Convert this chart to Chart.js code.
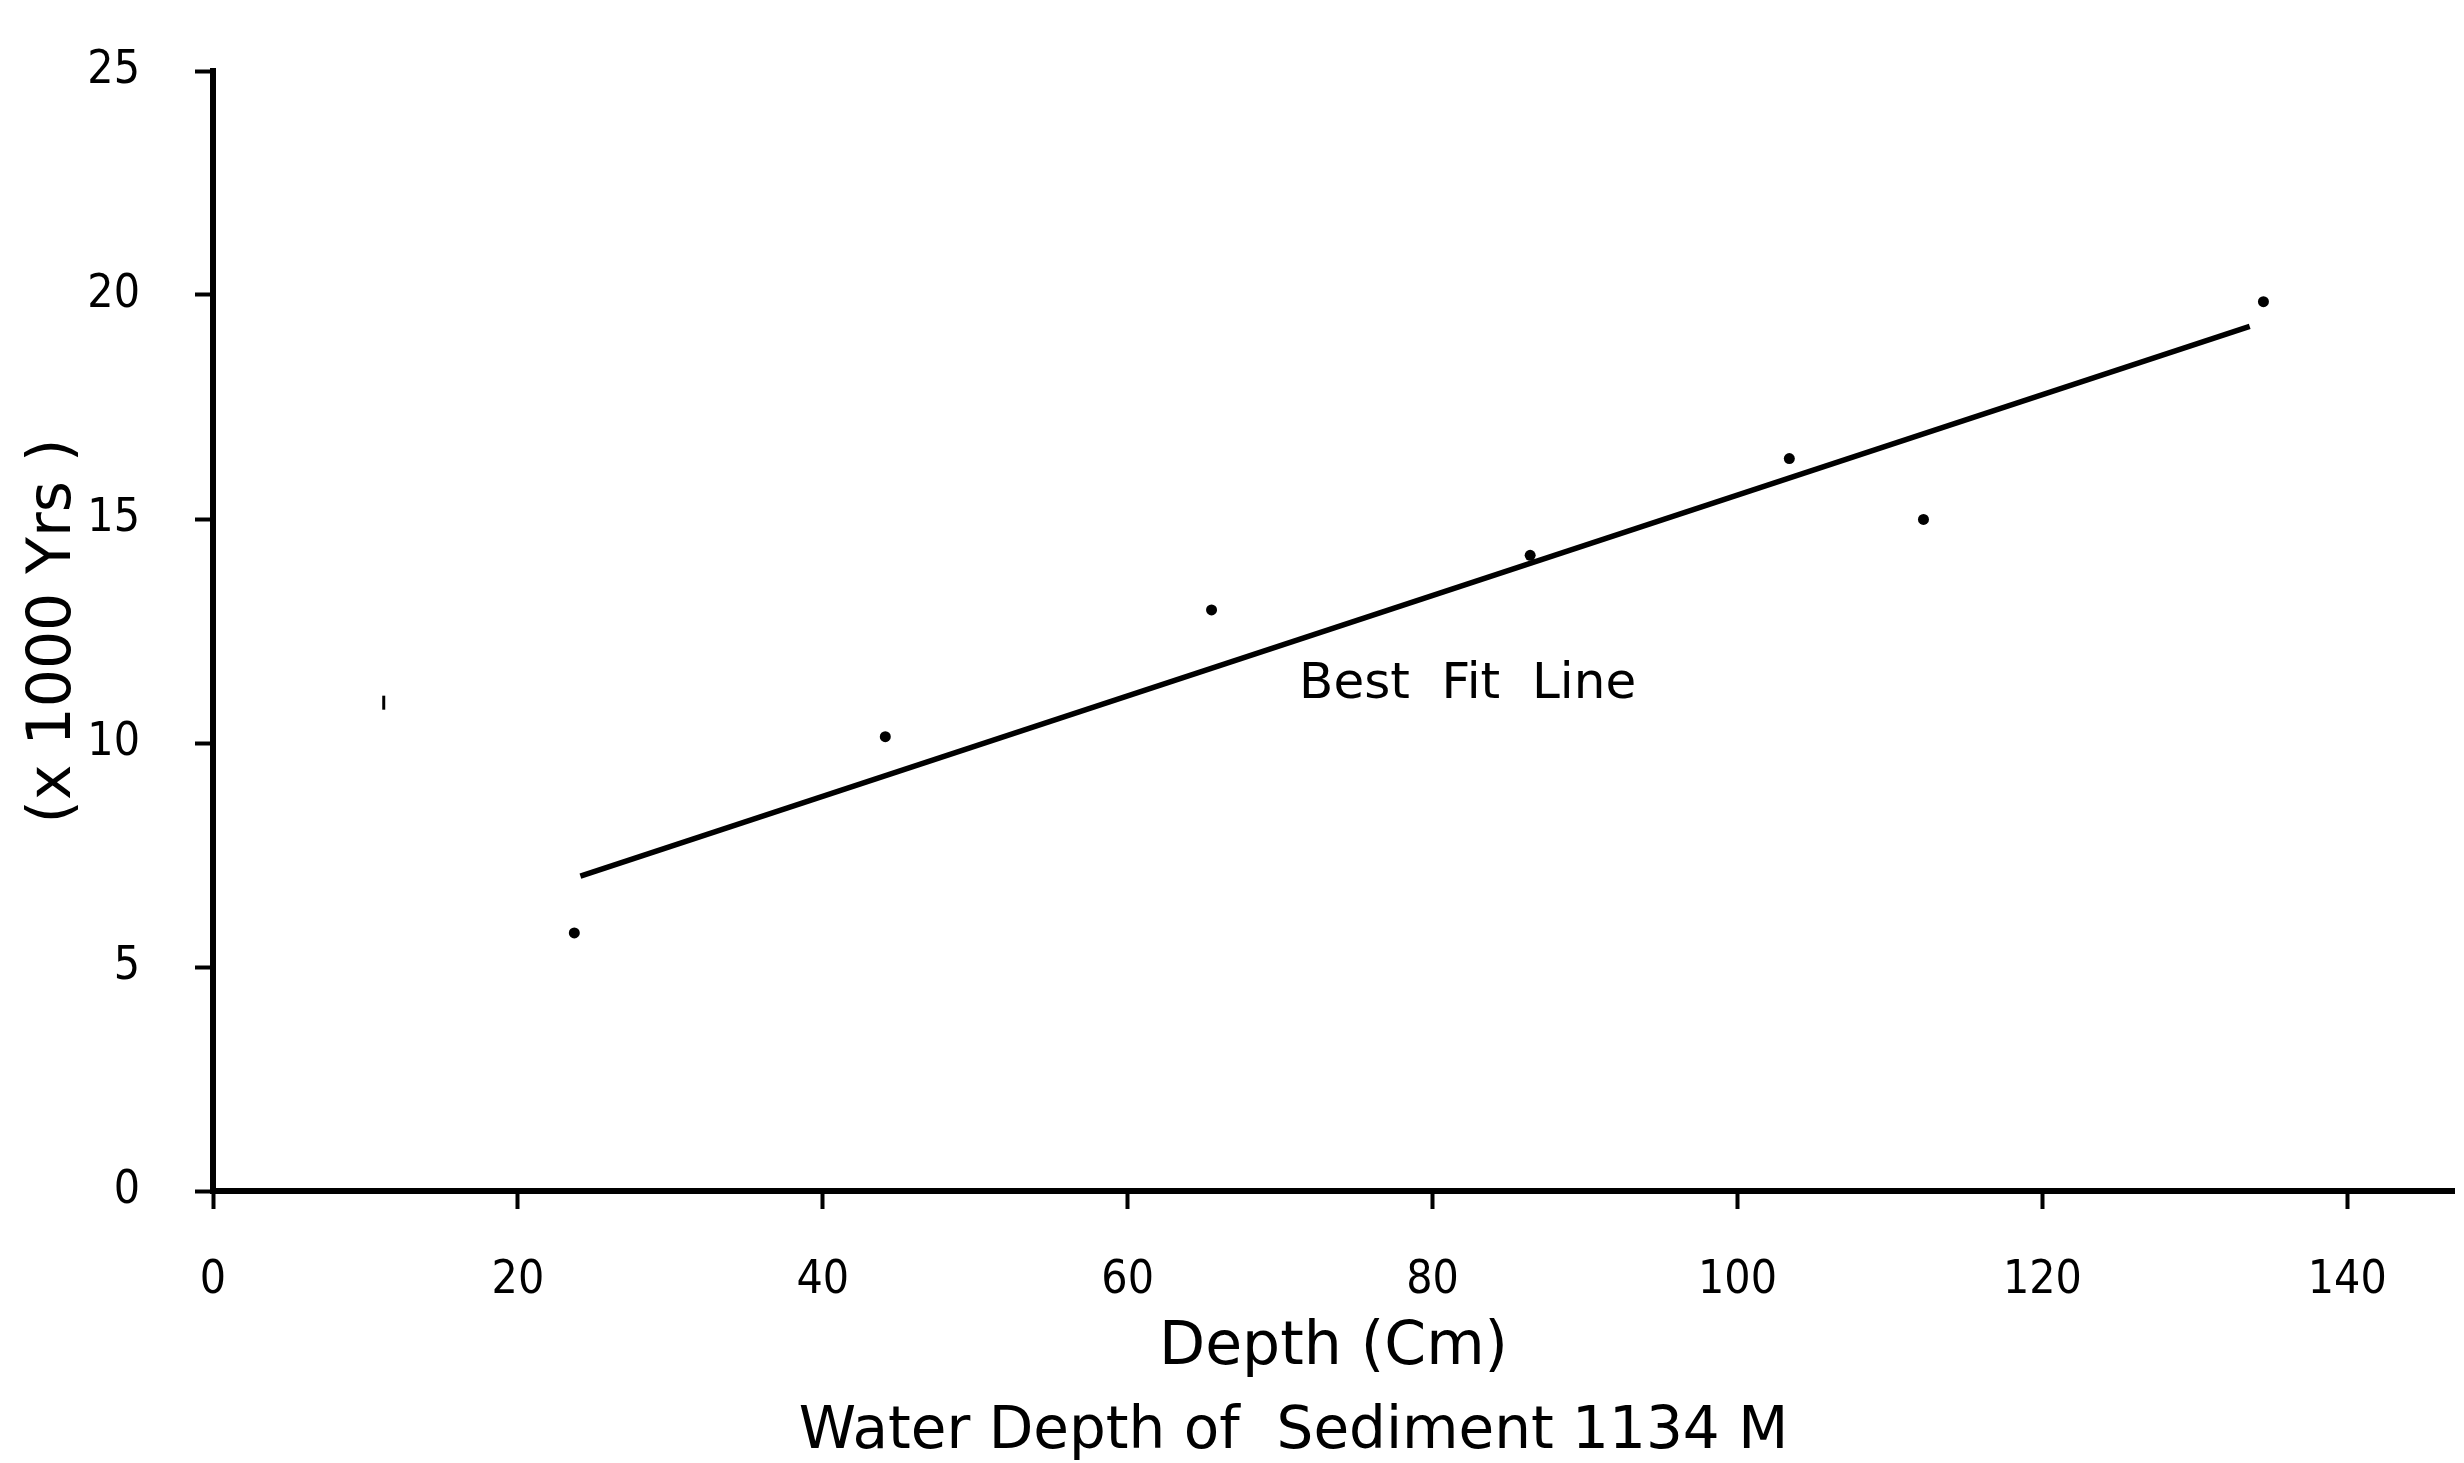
<!DOCTYPE html>
<html>
<head>
<meta charset="utf-8">
<script src="https://cdn.jsdelivr.net/npm/chart.js@4.4.1/dist/chart.umd.min.js"></script>
<style>
  html, body { margin: 0; padding: 0; background: #ffffff; }
  #wrap { width: 2464px; height: 1463px; position: relative; }
</style>
</head>
<body>
<div id="wrap"><canvas id="c" width="2464" height="1463"></canvas></div>
<script>
// ---- data ----
const depthCm   = [23.7, 44.1, 65.5, 86.4, 103.4, 112.2, 134.5];
const ageKyr    = [5.76, 10.14, 12.97, 14.19, 16.35, 14.99, 19.85];
const fitDepth  = [24.1, 133.6];
const fitAge    = [7.03, 19.3];
const speckDepth = [11.2];
const speckAge   = [10.9];
const xTickValues = [0, 20, 40, 60, 80, 100, 120, 140];
const yTickValues = [0, 5, 10, 15, 20, 25];
const xTitle = 'Depth (Cm)';
const subTitle = 'Water Depth of  Sediment 1134 M';
const yTitle = '(x 1000 Yrs )';
const fitLabel = 'Best  Fit  Line';
const fitLabelAt = [82.3, 11.3];

const tickFont = '"Liberation Sans Narrow", "DejaVu Sans Condensed", "DejaVu Sans", sans-serif';
const titleFont = '"DejaVu Sans", sans-serif';

const zip = (xs, ys) => xs.map((x, i) => ({ x: x, y: ys[i] }));

const textPlugin = {
  id: 'extraText',
  afterDatasetsDraw(chart) {
    const ctx = chart.ctx;
    const px = chart.scales.x.getPixelForValue(fitLabelAt[0]);
    const py = chart.scales.y.getPixelForValue(fitLabelAt[1]);
    ctx.save();
    ctx.fillStyle = '#000';
    ctx.textAlign = 'center';
    ctx.textBaseline = 'middle';
    ctx.font = '50px ' + titleFont;
    ctx.fillText(fitLabel, px, py);
    // second line under the x axis title
    const area = chart.chartArea;
    ctx.font = '58px ' + titleFont;
    ctx.fillText(subTitle, (area.left + area.right) / 2 - 40, chart.height - 30);
    ctx.restore();
  }
};

new Chart(document.getElementById('c'), {
  type: 'scatter',
  data: {
    datasets: [
      {
        label: 'Samples',
        data: zip(depthCm, ageKyr),
        backgroundColor: '#000',
        borderColor: '#000',
        pointRadius: 5.5,
        pointBorderWidth: 0,
        showLine: false
      },
      {
        label: 'Best Fit Line',
        data: zip(fitDepth, fitAge),
        borderColor: '#000',
        borderWidth: 5.5,
        pointRadius: 0,
        showLine: true,
        fill: false
      },
      {
        label: 'speck',
        data: zip(speckDepth, speckAge),
        borderColor: '#000',
        pointStyle: 'line',
        rotation: 90,
        pointRadius: 7,
        pointBorderWidth: 3,
        showLine: false
      }
    ]
  },
  options: {
    responsive: false,
    animation: false,
    devicePixelRatio: 1,
    layout: { padding: { top: 71, right: 0, bottom: 0, left: 0 } },
    plugins: {
      legend: { display: false },
      tooltip: { enabled: false },
      title: { display: false }
    },
    scales: {
      x: {
        type: 'linear',
        position: 'bottom',
        min: 0,
        max: 147,
        afterBuildTicks: (s) => { s.ticks = xTickValues.map(v => ({ value: v })); },
        afterFit: (s) => { s.height = 272; },
        grid: {
          display: true,
          drawOnChartArea: false,
          drawTicks: true,
          tickLength: 18,
          tickWidth: 4,
          tickColor: '#000'
        },
        border: { display: true, color: '#000', width: 6 },
        ticks: {
          color: '#000',
          font: { family: tickFont, size: 46 },
          padding: 44,
          maxRotation: 0,
          autoSkip: false
        },
        title: {
          display: true,
          text: xTitle,
          color: '#000',
          font: { family: titleFont, size: 60, lineHeight: 1.2 },
          padding: { top: 0, bottom: 79 }
        }
      },
      y: {
        type: 'linear',
        position: 'left',
        min: 0,
        max: 25,
        afterBuildTicks: (s) => { s.ticks = yTickValues.map(v => ({ value: v })); },
        afterFit: (s) => { s.width = 213; s.paddingTop = 0; s.paddingBottom = 0; },
        grid: {
          display: true,
          drawOnChartArea: false,
          drawTicks: true,
          tickLength: 18,
          tickWidth: 4,
          tickColor: '#000'
        },
        border: { display: true, color: '#000', width: 6 },
        ticks: {
          color: '#000',
          font: { family: tickFont, size: 46 },
          padding: 55,
          autoSkip: false
        },
        title: {
          display: true,
          text: yTitle,
          color: '#000',
          font: { family: titleFont, size: 60, lineHeight: 1.2 },
          padding: { top: 18, bottom: 0 }
        }
      }
    }
  },
  plugins: [textPlugin]
});
</script>
</body>
</html>
